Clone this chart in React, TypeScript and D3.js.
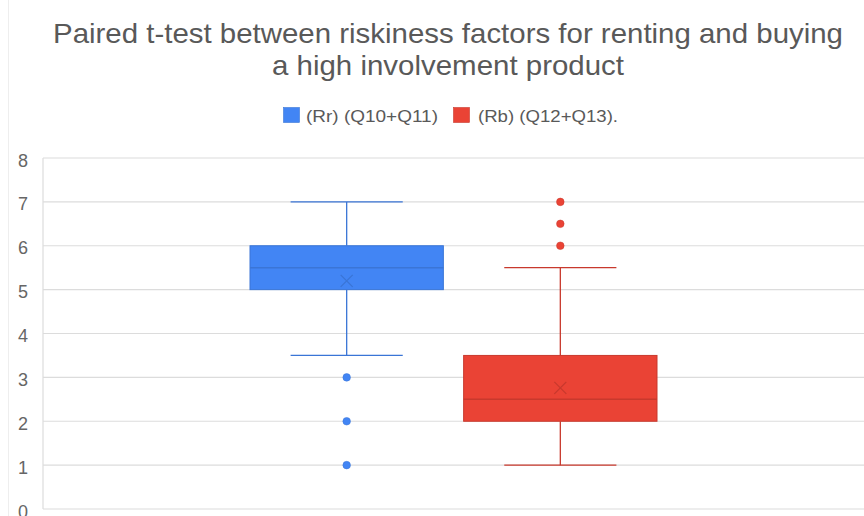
import React from "react";
import * as d3 from "d3";

const seriesNames = ["(Rr) (Q10+Q11)", "(Rb) (Q12+Q13)."];
const colors = ["#4285F4", "#EA4335"];
const strokeColors = ["#3A75D6", "#C8392D"];
const q1 = [5, 2];
const median = [5.5, 2.5];
const q3 = [6, 3.5];
const whiskerLow = [3.5, 1];
const whiskerHigh = [7, 5.5];
const means = [5.2, 2.76];
const outliers = [[3, 2, 1], [6, 6.5, 7]];
const yTicks = [0, 1, 2, 3, 4, 5, 6, 7, 8];

export default function App() {
  const W = 864, H = 516;
  const left = 43, right = 864, top = 158, bottom = 509;
  const y = d3.scaleLinear().domain([0, 8]).range([bottom, top]);
  const x = d3.scaleBand<string>().domain(seriesNames).range([250, 657]).paddingInner(0.095);
  const bw = x.bandwidth();
  const font = "'Liberation Sans', Arial, sans-serif";
  return (
    <svg width={W} height={H} style={{ position: "absolute", left: 0, top: 0, background: "#fff" }}>
      <rect x={0} y={0} width={W} height={H} fill="#fff" />
      <line x1={8.5} x2={8.5} y1={0} y2={H} stroke="#eee" />
      <text x={53} y={43} fontFamily={font} fontSize={28} fill="#595959" textLength={790} lengthAdjust="spacingAndGlyphs">
        Paired t-test between riskiness factors for renting and buying
      </text>
      <text x={272} y={75} fontFamily={font} fontSize={28} fill="#595959" textLength={352} lengthAdjust="spacingAndGlyphs">
        a high involvement product
      </text>
      {/* legend */}
      <rect x={283.5} y={107.5} width={16} height={15} fill={colors[0]} stroke={strokeColors[0]} strokeWidth={0.6} />
      <text x={306} y={122} fontFamily={font} fontSize={17} fill="#595959" textLength={132} lengthAdjust="spacingAndGlyphs">{seriesNames[0]}</text>
      <rect x={453.5} y={107.5} width={16} height={15} fill={colors[1]} stroke={strokeColors[1]} strokeWidth={0.6} />
      <text x={478} y={122} fontFamily={font} fontSize={17} fill="#595959" textLength={140} lengthAdjust="spacingAndGlyphs">{seriesNames[1]}</text>
      {/* grid */}
      {yTicks.map((t) => (
        <g key={t}>
          <line x1={left} x2={right} y1={y(t)} y2={y(t)} stroke="#dcdcdc" strokeWidth={1.2} />
          <text x={28} y={y(t) + 8.5} textAnchor="end" fontFamily={font} fontSize={18} fill="#666">{t}</text>
        </g>
      ))}
      <line x1={left} x2={left} y1={top} y2={bottom} stroke="#dcdcdc" strokeWidth={1.2} />
      {seriesNames.map((s, i) => {
        const x0 = x(s)!;
        const cx = x0 + bw / 2;
        const cap = bw * 0.29;
        const c = colors[i], sc = strokeColors[i];
        const my = y(means[i]);
        return (
          <g key={s}>
            <line x1={cx} x2={cx} y1={y(whiskerHigh[i])} y2={y(q3[i])} stroke={sc} strokeWidth={1.3} />
            <line x1={cx} x2={cx} y1={y(q1[i])} y2={y(whiskerLow[i])} stroke={sc} strokeWidth={1.3} />
            <line x1={cx - cap} x2={cx + cap} y1={y(whiskerHigh[i])} y2={y(whiskerHigh[i])} stroke={sc} strokeWidth={1.3} />
            <line x1={cx - cap} x2={cx + cap} y1={y(whiskerLow[i])} y2={y(whiskerLow[i])} stroke={sc} strokeWidth={1.3} />
            <rect x={x0} y={y(q3[i])} width={bw} height={y(q1[i]) - y(q3[i])} fill={c} stroke={sc} strokeWidth={1} />
            <line x1={x0} x2={x0 + bw} y1={y(median[i])} y2={y(median[i])} stroke={sc} strokeWidth={1.5} />
            <path d={`M${cx - 6},${my - 6}L${cx + 6},${my + 6}M${cx - 6},${my + 6}L${cx + 6},${my - 6}`} stroke={sc} strokeWidth={1.3} fill="none" />
            {outliers[i].map((o, j) => (
              <circle key={j} cx={cx} cy={y(o)} r={3.8} fill={c} stroke={sc} strokeWidth={0.5} />
            ))}
          </g>
        );
      })}
    </svg>
  );
}
